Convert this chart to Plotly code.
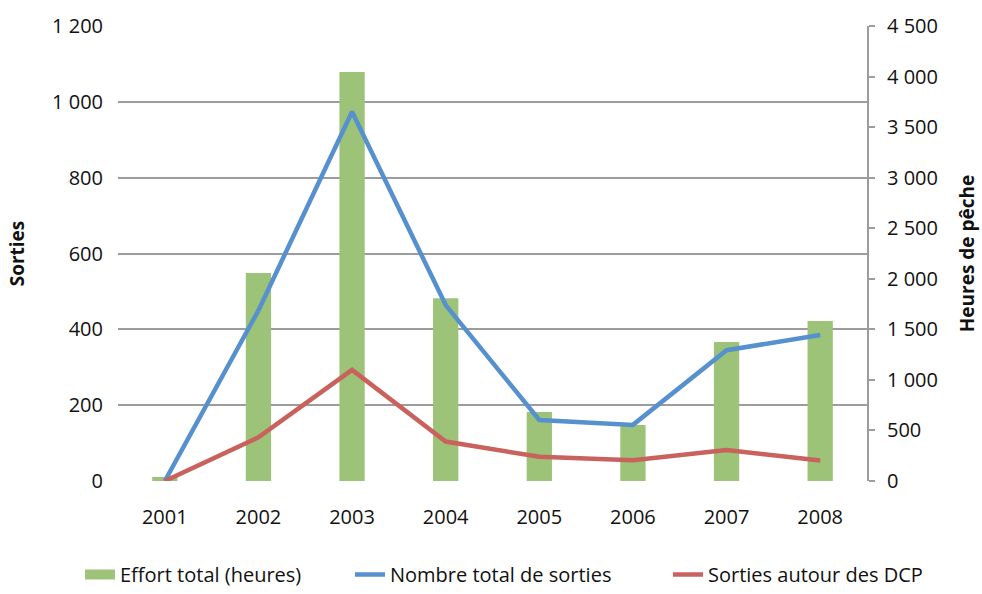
import plotly.graph_objects as go

years = ["2001", "2002", "2003", "2004", "2005", "2006", "2007", "2008"]
effort_heures = [40, 2057, 4045, 1807, 682, 554, 1375, 1582]
sorties_total = [0, 450, 974, 464, 161, 148, 345, 385]
sorties_dcp = [0, 115, 293, 104, 64, 55, 82, 54]

FONT = "Open Sans"
GRID = "#9C9C9C"
GREEN = "#9CC377"
BLUE = "#5690CF"
RED = "#C9625D"

fig = go.Figure()
fig.add_trace(go.Bar(
    x=years, y=effort_heures, name="Effort total (heures)",
    marker=dict(color=GREEN, line=dict(width=0)), yaxis="y",
    legendgroup="effort", showlegend=False,
))
# legend-only entry giving the wide green swatch
fig.add_trace(go.Scatter(
    x=[None], y=[None], name="Effort total (heures)", mode="lines",
    line=dict(color=GREEN, width=14), yaxis="y", legendgroup="effort",
    legend="legend",
))
fig.add_trace(go.Scatter(
    x=years, y=sorties_total, name="Nombre total de sorties", mode="lines",
    line=dict(color=BLUE, width=4.5), yaxis="y2", legend="legend2",
))
fig.add_trace(go.Scatter(
    x=years, y=sorties_dcp, name="Sorties autour des DCP", mode="lines",
    line=dict(color=RED, width=4.5), yaxis="y2", legend="legend3",
))

def leg(xpx):
    return dict(orientation="h", xref="container", x=xpx / 982, xanchor="left",
                yref="container", y=-0.01, yanchor="bottom",
                font=dict(size=20), bgcolor="rgba(0,0,0,0)")

fig.update_layout(
    width=982, height=594,
    margin=dict(l=118, r=115, t=26, b=113, autoexpand=False),
    paper_bgcolor="white", plot_bgcolor="white",
    font=dict(family=FONT, size=20, color="#111111"),
    separators=", ",
    bargap=0.73,
    showlegend=True,
    legend=leg(80),
    legend2=leg(350),
    legend3=leg(668),
    xaxis=dict(type="category", range=[-0.5, 7.5], showgrid=False, showline=False,
               ticks="", ticklabelstandoff=22, tickfont=dict(size=20)),
    yaxis=dict(side="right", range=[0, 4500], dtick=500, tickformat=",d",
               showgrid=False, showline=True, linecolor=GRID, linewidth=2,
               ticks="outside", ticklen=6, tickcolor=GRID, tickwidth=2,
               ticklabelstandoff=8, zeroline=False,
               title=dict(text="<b>Heures de pêche</b>", standoff=24,
                          font=dict(size=19))),
    yaxis2=dict(side="left", overlaying="y", range=[0, 1200], dtick=200,
                tickformat=",d", showgrid=True, gridcolor=GRID, gridwidth=2,
                showline=False, ticks="", ticklabelstandoff=14, zeroline=False,
                title=dict(text="<b>Sorties</b>", standoff=22,
                           font=dict(size=19))),
)

fig.write_html("out.html")
